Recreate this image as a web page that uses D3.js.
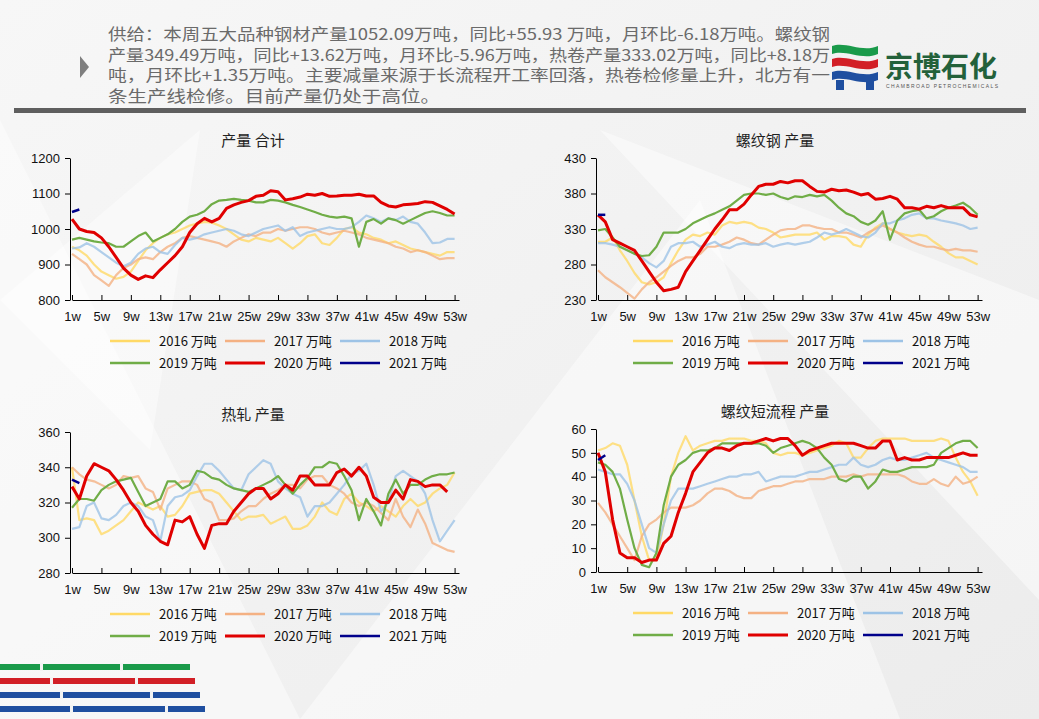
<!DOCTYPE html>
<html><head><meta charset="utf-8">
<script src="https://cdn.jsdelivr.net/npm/d3@7"></script>
<style>
body{margin:0;background:#f3f3f3;font-family:"Liberation Sans",Arial,sans-serif;}
</style></head>
<body><svg id="c" width="1039" height="719"></svg>
<script>
// ---- data ----
var years = ["2016 万吨","2017 万吨","2018 万吨","2019 万吨","2020 万吨","2021 万吨"];
var colors = ["#FFD966","#F4B183","#9DC3E6","#70AD47","#E00000","#00008B"];
var weekTicks = [1,5,9,13,17,21,25,29,33,37,41,45,49,53];

var total2016=[950,940,925,900,880,870,860,865,880,910,940,960,975,985,990,1000,1010,1015,1020,1018,1010,1000,985,970,965,975,970,965,975,960,945,960,980,985,960,955,975,1000,1005,990,985,975,970,960,965,955,945,940,935,930,925,935,935];
var total2017=[930,915,900,870,855,840,870,890,900,915,920,915,935,950,960,975,980,975,970,965,960,950,965,975,985,980,990,990,1000,995,1000,1005,1005,1000,990,985,990,995,990,985,975,970,965,960,950,945,935,940,935,925,915,918,918];
var total2018=[945,948,960,950,935,920,905,895,905,930,945,950,935,930,955,975,970,975,985,990,995,1000,995,985,980,990,1000,1005,1010,995,1005,980,990,995,1000,1005,1000,1000,1005,1020,1038,1030,1020,1030,1025,1035,1020,1015,990,960,962,972,972];
var total2019=[970,975,970,965,962,960,950,950,965,980,990,965,975,985,1000,1020,1035,1040,1050,1070,1080,1082,1085,1082,1080,1075,1075,1082,1080,1075,1068,1062,1055,1048,1040,1035,1032,1035,1030,950,1020,1028,1015,1030,1025,1015,1025,1035,1045,1050,1045,1038,1038];
var total2020=[1028,1000,993,990,975,950,920,890,870,858,868,863,885,905,925,950,990,1015,1030,1020,1030,1058,1068,1075,1080,1092,1095,1108,1105,1082,1085,1090,1098,1095,1100,1092,1093,1095,1095,1098,1093,1093,1075,1065,1062,1068,1070,1072,1077,1075,1065,1055,1042];
var total2021=[1048,1055];

var rebar2016=[312,312,318,300,285,268,255,252,255,262,282,300,315,322,320,325,322,335,340,338,340,338,332,330,325,318,320,322,322,322,325,315,320,320,318,308,305,322,332,338,330,325,322,320,322,320,312,305,296,290,290,285,280];
var rebar2017=[272,262,255,248,240,232,245,255,262,270,278,285,290,290,295,305,305,308,312,318,315,310,308,315,322,328,330,330,335,335,332,330,330,325,325,322,318,325,330,335,330,325,318,312,308,305,305,302,300,302,300,300,298];
var rebar2018=[310,310,308,305,300,295,290,282,276,285,305,310,310,312,305,308,312,305,303,308,310,308,308,310,305,308,310,308,310,312,318,325,322,325,330,325,320,318,325,338,338,342,345,350,352,345,345,342,340,338,335,330,332];
var rebar2019=[328,330,318,305,300,295,292,293,305,325,325,325,330,338,343,348,352,357,362,370,378,380,380,378,380,375,372,376,375,378,376,378,370,360,352,348,340,336,342,355,315,342,352,355,357,345,348,355,360,363,367,360,350];
var rebar2020=[350,340,315,310,305,300,285,270,255,243,245,248,270,285,300,315,330,343,357,357,365,378,390,393,393,397,395,398,398,390,383,382,386,384,385,382,378,380,372,373,376,372,360,360,358,362,360,363,360,360,360,350,347];
var rebar2021=[350,350];

var hrc2016=[340,310,311,310,302,304,307,310,315,320,318,316,318,312,313,318,325,326,327,327,325,320,315,310,312,312,313,308,310,312,305,305,307,312,320,315,313,322,325,320,318,315,318,315,312,318,322,318,320,325,328,330,337];
var hrc2017=[340,336,333,332,330,328,330,335,334,335,328,326,316,328,330,332,332,330,322,320,310,310,311,315,318,318,322,325,327,330,330,328,333,335,335,330,328,325,320,318,320,318,314,310,322,312,306,316,308,297,295,293,292];
var hrc2018=[305,306,318,320,311,310,313,318,320,318,312,310,298,318,323,324,327,335,342,342,338,333,328,327,336,340,344,342,332,328,325,323,312,318,318,320,325,330,336,338,342,330,315,320,335,338,335,332,325,310,298,304,310];
var hrc2019=[317,322,322,321,327,330,332,333,334,326,318,320,322,332,332,328,330,338,337,334,333,330,328,327,326,328,330,332,335,330,325,330,334,340,340,343,342,335,327,310,322,315,307,325,333,325,330,330,333,335,336,336,337];
var hrc2020=[329,322,335,342,340,338,333,327,320,315,307,302,298,296,310,309,312,302,294,307,308,308,315,320,325,328,328,322,325,330,327,335,335,330,330,330,337,339,335,340,335,323,320,320,327,322,333,332,329,330,330,326];
var hrc2021=[333,331];

var eaf2016=[51,52,54,53,45,30,15,5,5,20,40,50,57,51,53,54,55,55,56,56,56,55,55,54,50,49,50,50,49,50,51,52,53,55,54,48,48,52,55,56,56,56,56,55,55,55,55,56,55,48,42,38,32];
var eaf2017=[29,25,20,15,10,5,15,20,22,25,27,27,27,28,30,33,35,35,34,32,31,31,34,35,36,36,37,38,38,39,39,39,40,40,40,41,40,41,41,41,41,41,40,38,37,37,39,37,36,40,37,38,40];
var eaf2018=[43,42,41,41,37,30,20,10,8,20,30,35,35,35,36,37,38,39,40,40,41,41,42,38,39,40,40,40,41,42,42,43,44,45,45,48,45,44,45,47,48,47,47,48,49,50,48,47,46,45,44,42,42];
var eaf2019=[46,45,42,35,22,10,3,2,8,28,40,45,47,50,51,51,52,54,54,54,54,54,54,53,50,52,53,54,55,54,52,48,45,39,38,40,40,35,38,43,42,42,43,44,44,44,45,50,52,54,55,55,52];
var eaf2020=[50,42,22,8,6,6,4,5,5,12,15,25,33,42,46,50,52,52,51,53,54,54,55,56,55,56,56,53,49,51,52,53,54,54,54,54,53,52,52,55,55,47,48,47,47,48,48,48,48,49,50,49,49];
var eaf2021=[47,49];

var headerLines = [
 "供给：本周五大品种钢材产量1052.09万吨，同比+55.93 万吨，月环比-6.18万吨。螺纹钢",
 "产量349.49万吨，同比+13.62万吨，月环比-5.96万吨，热卷产量333.02万吨，同比+8.18万",
 "吨，月环比+1.35万吨。主要减量来源于长流程开工率回落，热卷检修量上升，北方有一",
 "条生产线检修。目前产量仍处于高位。"
];

var svg = d3.select("#c");
var defs = svg.append("defs");
var g0 = defs.append("linearGradient").attr("id","bg").attr("x1",0).attr("y1",0).attr("x2",1).attr("y2",1);
g0.append("stop").attr("offset","0").attr("stop-color","#f7f7f7");
g0.append("stop").attr("offset","1").attr("stop-color","#ececec");
svg.append("rect").attr("width",1039).attr("height",719).attr("fill","url(#bg)");
// faint background shards
[[0,120,300,719,0,719],[600,130,1039,300,1039,600],[300,719,700,200,900,719],[0,300,200,130,150,450]].forEach(function(p){
  svg.append("polygon").attr("points",[[p[0],p[1]],[p[2],p[3]],[p[4],p[5]]].join(" ")).attr("fill","#fff").attr("opacity",0.45);
});

// header
svg.append("path").attr("d","M80,56 L89,67 L80,78 Z").attr("fill","#7f7f7f");
headerLines.forEach(function(t,i){
  svg.append("text").attr("x",108).attr("y",40+i*20.5).attr("font-family","Noto Sans CJK SC")
    .attr("font-size",15.5).attr("fill","#6a6a6a")
    .attr("textLength", i==3?332:722).attr("lengthAdjust","spacingAndGlyphs").text(t);
});
svg.append("rect").attr("x",14).attr("y",108).attr("width",1012).attr("height",5).attr("fill","#5f5f5f");

// logo
var lg = svg.append("g").attr("transform","translate(832,44)");
[["#1a9a4a",0],["#d21f26",13],["#1f4fa0",26]].forEach(function(s){
  var t = s[1];
  lg.append("path").attr("d","M0,"+(t+2)+" C14,"+(t-3)+" 30,"+(t+9)+" 46,"+(t+2)+" L46,"+(t+10)+" C30,"+(t+17)+" 14,"+(t+5)+" 0,"+(t+10)+" Z").attr("fill",s[0]);
});
lg.append("rect").attr("x",4).attr("y",36).attr("width",8).attr("height",10).attr("fill","#1f4fa0");
lg.append("rect").attr("x",34).attr("y",36).attr("width",8).attr("height",10).attr("fill","#1f4fa0");
svg.append("text").attr("x",885).attr("y",77).attr("font-family","Noto Sans CJK SC").attr("font-weight","bold")
  .attr("font-size",28).attr("fill","#23613a").text("京博石化");
svg.append("text").attr("x",886).attr("y",88).attr("font-size",5).attr("fill","#555")
  .attr("textLength",112).text("CHAMBROAD PETROCHEMICALS");

// bottom-left decoration
var bd = svg.append("g");
[["#1a9a4a",664],["#d21f26",678],["#1f4fa0",692],["#1f4fa0",706]].forEach(function(s,i){
  bd.append("rect").attr("x",0).attr("y",s[1]).attr("width",190+i*5).attr("height",6).attr("fill",s[0]);
  bd.append("rect").attr("x",40+i*10).attr("y",s[1]-1).attr("width",3).attr("height",8).attr("fill","#f3f3f3");
  bd.append("rect").attr("x",120+i*15).attr("y",s[1]-1).attr("width",3).attr("height",8).attr("fill","#f3f3f3");
});

function panel(o){
  var x = d3.scaleLinear().domain([1,53.6]).range([o.x0,o.x1]);
  var y = d3.scaleLinear().domain(o.dom).range([o.y1,o.y0]);
  var g = svg.append("g");
  g.append("text").attr("x",o.tx).attr("y",o.y0-12).attr("text-anchor","middle")
    .attr("font-family","Noto Sans CJK SC").attr("font-size",15).attr("fill","#222").text(o.title);
  var xa = g.append("g").attr("transform","translate(0,"+o.y1+")")
    .call(d3.axisBottom(x).tickValues(weekTicks).tickFormat(function(d){return d+"w";}).tickSizeInner(-5).tickSizeOuter(0));
  xa.selectAll(".tick line").attr("y2",-5);
  var ya = g.append("g").attr("transform","translate("+(o.x0-2)+",0)")
    .call(d3.axisLeft(y).tickValues(o.yt).tickFormat(d3.format("d")).tickSizeInner(5).tickSizeOuter(0));
  ya.selectAll("text").attr("dx","-2");
  g.selectAll(".domain").attr("stroke","#000");
  g.selectAll(".tick text").attr("font-size",13).attr("font-family","Liberation Sans").attr("fill","#111");
  xa.selectAll(".tick text").attr("dy","1.35em");
  var line = d3.line().x(function(d,i){return x(i+1);}).y(function(d){return y(d);});
  o.series.forEach(function(s,i){
    g.append("path").datum(s).attr("d",line).attr("fill","none").attr("stroke",colors[i])
      .attr("stroke-width",i==4?3:(i==5?2.5:2.2)).attr("stroke-opacity",i>=3?1:0.8).attr("stroke-linejoin","round");
  });
  // legend
  years.forEach(function(t,i){
    var lx = o.lx + (i%3)*115, ly = o.y1+41+Math.floor(i/3)*22;
    g.append("line").attr("x1",lx).attr("x2",lx+40).attr("y1",ly).attr("y2",ly).attr("stroke",colors[i]).attr("stroke-width",i==4?3:2.5);
    g.append("text").attr("x",lx+49).attr("y",ly+5).attr("font-size",13).attr("font-family","Noto Sans CJK SC").attr("fill","#111").text(t);
  });
}

panel({x0:72,x1:459,y0:158,y1:300,dom:[800,1200],yt:[800,900,1000,1100,1200],tx:253,lx:110,title:"产量 合计",
  series:[total2016,total2017,total2018,total2019,total2020,total2021]});
panel({x0:598,x1:982,y0:158,y1:300,dom:[230,430],yt:[230,280,330,380,430],tx:775,lx:633,title:"螺纹钢 产量",
  series:[rebar2016,rebar2017,rebar2018,rebar2019,rebar2020,rebar2021]});
panel({x0:72,x1:459,y0:432,y1:573,dom:[280,360],yt:[280,300,320,340,360],tx:253,lx:110,title:"热轧 产量",
  series:[hrc2016,hrc2017,hrc2018,hrc2019,hrc2020,hrc2021]});
panel({x0:598,x1:982,y0:429,y1:572,dom:[0,60],yt:[0,10,20,30,40,50,60],tx:775,lx:633,title:"螺纹短流程 产量",
  series:[eaf2016,eaf2017,eaf2018,eaf2019,eaf2020,eaf2021]});
</script></body></html>
